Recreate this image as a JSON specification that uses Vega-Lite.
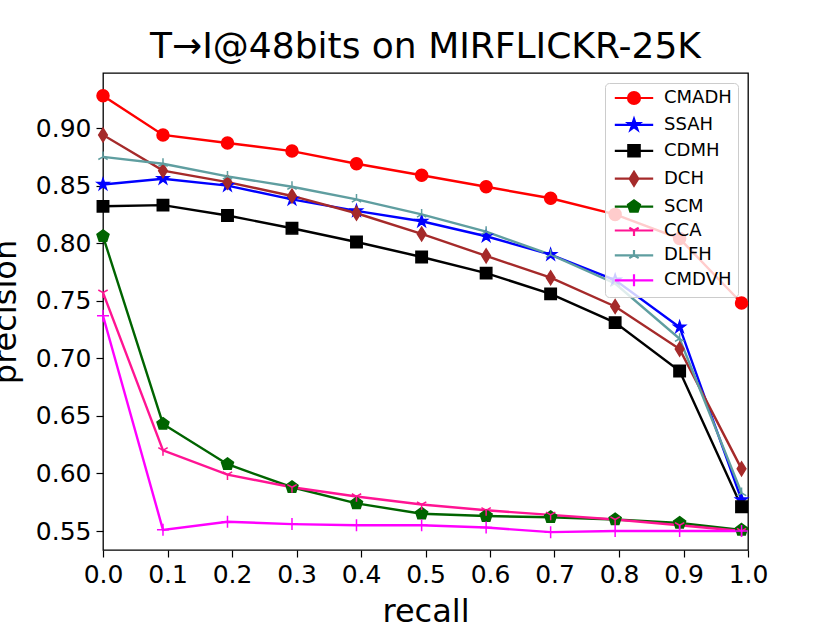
{
  "$schema": "https://vega.github.io/schema/vega-lite/v6.json",
  "autosize": "none",
  "width": 645,
  "height": 477,
  "padding": {"left": 103, "top": 73, "right": 82, "bottom": 73},
  "background": "white",
  "title": {
    "text": "T→I@48bits on MIRFLICKR-25K",
    "font": "DejaVu Sans",
    "fontSize": 36,
    "fontWeight": "normal",
    "color": "black",
    "anchor": "middle",
    "baseline": "alphabetic",
    "offset": -21
  },
  "data": {
    "values": [
      {"method": "CMADH", "recall": 0, "precision": 0.928},
      {"method": "CMADH", "recall": 0.093, "precision": 0.894},
      {"method": "CMADH", "recall": 0.193, "precision": 0.887},
      {"method": "CMADH", "recall": 0.293, "precision": 0.880},
      {"method": "CMADH", "recall": 0.393, "precision": 0.869},
      {"method": "CMADH", "recall": 0.494, "precision": 0.859},
      {"method": "CMADH", "recall": 0.594, "precision": 0.849},
      {"method": "CMADH", "recall": 0.694, "precision": 0.839},
      {"method": "CMADH", "recall": 0.794, "precision": 0.825},
      {"method": "CMADH", "recall": 0.894, "precision": 0.804},
      {"method": "CMADH", "recall": 0.99, "precision": 0.748},
      {"method": "SSAH", "recall": 0, "precision": 0.851},
      {"method": "SSAH", "recall": 0.093, "precision": 0.856},
      {"method": "SSAH", "recall": 0.193, "precision": 0.850},
      {"method": "SSAH", "recall": 0.293, "precision": 0.838},
      {"method": "SSAH", "recall": 0.393, "precision": 0.828},
      {"method": "SSAH", "recall": 0.494, "precision": 0.819},
      {"method": "SSAH", "recall": 0.594, "precision": 0.806},
      {"method": "SSAH", "recall": 0.694, "precision": 0.790},
      {"method": "SSAH", "recall": 0.794, "precision": 0.768},
      {"method": "SSAH", "recall": 0.894, "precision": 0.727},
      {"method": "SSAH", "recall": 0.99, "precision": 0.577},
      {"method": "CDMH", "recall": 0, "precision": 0.832},
      {"method": "CDMH", "recall": 0.093, "precision": 0.833},
      {"method": "CDMH", "recall": 0.193, "precision": 0.824},
      {"method": "CDMH", "recall": 0.293, "precision": 0.813},
      {"method": "CDMH", "recall": 0.393, "precision": 0.801},
      {"method": "CDMH", "recall": 0.494, "precision": 0.788},
      {"method": "CDMH", "recall": 0.594, "precision": 0.774},
      {"method": "CDMH", "recall": 0.694, "precision": 0.756},
      {"method": "CDMH", "recall": 0.794, "precision": 0.731},
      {"method": "CDMH", "recall": 0.894, "precision": 0.689},
      {"method": "CDMH", "recall": 0.99, "precision": 0.571},
      {"method": "DCH", "recall": 0, "precision": 0.894},
      {"method": "DCH", "recall": 0.093, "precision": 0.863},
      {"method": "DCH", "recall": 0.193, "precision": 0.853},
      {"method": "DCH", "recall": 0.293, "precision": 0.841},
      {"method": "DCH", "recall": 0.393, "precision": 0.826},
      {"method": "DCH", "recall": 0.494, "precision": 0.808},
      {"method": "DCH", "recall": 0.594, "precision": 0.789},
      {"method": "DCH", "recall": 0.694, "precision": 0.770},
      {"method": "DCH", "recall": 0.794, "precision": 0.745},
      {"method": "DCH", "recall": 0.894, "precision": 0.708},
      {"method": "DCH", "recall": 0.99, "precision": 0.604},
      {"method": "SCM", "recall": 0, "precision": 0.806},
      {"method": "SCM", "recall": 0.093, "precision": 0.643},
      {"method": "SCM", "recall": 0.193, "precision": 0.608},
      {"method": "SCM", "recall": 0.293, "precision": 0.588},
      {"method": "SCM", "recall": 0.393, "precision": 0.574},
      {"method": "SCM", "recall": 0.494, "precision": 0.565},
      {"method": "SCM", "recall": 0.594, "precision": 0.563},
      {"method": "SCM", "recall": 0.694, "precision": 0.562},
      {"method": "SCM", "recall": 0.794, "precision": 0.560},
      {"method": "SCM", "recall": 0.894, "precision": 0.557},
      {"method": "SCM", "recall": 0.99, "precision": 0.551},
      {"method": "CCA", "recall": 0, "precision": 0.757},
      {"method": "CCA", "recall": 0.093, "precision": 0.620},
      {"method": "CCA", "recall": 0.193, "precision": 0.599},
      {"method": "CCA", "recall": 0.293, "precision": 0.588},
      {"method": "CCA", "recall": 0.393, "precision": 0.580},
      {"method": "CCA", "recall": 0.494, "precision": 0.573},
      {"method": "CCA", "recall": 0.594, "precision": 0.568},
      {"method": "CCA", "recall": 0.694, "precision": 0.564},
      {"method": "CCA", "recall": 0.794, "precision": 0.560},
      {"method": "CCA", "recall": 0.894, "precision": 0.555},
      {"method": "CCA", "recall": 0.99, "precision": 0.550},
      {"method": "DLFH", "recall": 0, "precision": 0.875},
      {"method": "DLFH", "recall": 0.093, "precision": 0.869},
      {"method": "DLFH", "recall": 0.193, "precision": 0.858},
      {"method": "DLFH", "recall": 0.293, "precision": 0.849},
      {"method": "DLFH", "recall": 0.393, "precision": 0.838},
      {"method": "DLFH", "recall": 0.494, "precision": 0.825},
      {"method": "DLFH", "recall": 0.594, "precision": 0.810},
      {"method": "DLFH", "recall": 0.694, "precision": 0.790},
      {"method": "DLFH", "recall": 0.794, "precision": 0.765},
      {"method": "DLFH", "recall": 0.894, "precision": 0.717},
      {"method": "DLFH", "recall": 0.99, "precision": 0.583},
      {"method": "CMDVH", "recall": 0, "precision": 0.737},
      {"method": "CMDVH", "recall": 0.093, "precision": 0.551},
      {"method": "CMDVH", "recall": 0.193, "precision": 0.558},
      {"method": "CMDVH", "recall": 0.293, "precision": 0.556},
      {"method": "CMDVH", "recall": 0.393, "precision": 0.555},
      {"method": "CMDVH", "recall": 0.494, "precision": 0.555},
      {"method": "CMDVH", "recall": 0.594, "precision": 0.553},
      {"method": "CMDVH", "recall": 0.694, "precision": 0.549},
      {"method": "CMDVH", "recall": 0.794, "precision": 0.550},
      {"method": "CMDVH", "recall": 0.894, "precision": 0.550},
      {"method": "CMDVH", "recall": 0.99, "precision": 0.550}
    ]
  },
  "encoding": {
    "x": {
      "field": "recall",
      "type": "quantitative",
      "scale": {"domain": [0, 1], "nice": false, "zero": false},
      "axis": {
        "title": "recall",
        "values": [0, 0.1, 0.2, 0.3, 0.4, 0.5, 0.6, 0.7, 0.8, 0.9, 1.0],
        "format": ".1f",
        "titlePadding": 9
      }
    },
    "y": {
      "field": "precision",
      "type": "quantitative",
      "scale": {"domain": [0.5335, 0.9478], "nice": false, "zero": false},
      "axis": {
        "title": "precision",
        "values": [0.55, 0.6, 0.65, 0.7, 0.75, 0.8, 0.85, 0.9],
        "format": ".2f",
        "titlePadding": 13
      }
    }
  },
  "layer": [
    {
      "mark": {"type": "line", "strokeWidth": 2.4, "clip": true},
      "encoding": {
        "detail": {"field": "method"},
        "color": {
          "field": "method",
          "type": "nominal",
          "scale": {
            "domain": ["CMADH", "SSAH", "CDMH", "DCH", "SCM", "CCA", "DLFH", "CMDVH"],
            "range": ["#ff0000", "#0000ff", "#000000", "#a52a2a", "#006400", "#ff1493", "#5f9ea0", "#ff00ff"]
          },
          "legend": null
        }
      }
    },
    {
      "mark": {"type": "point", "filled": true, "opacity": 1, "size": 144, "strokeWidth": 1.5},
      "encoding": {
        "color": {"field": "method", "type": "nominal", "legend": null},
        "stroke": {
          "field": "method",
          "type": "nominal",
          "scale": {
            "domain": ["CMADH", "SSAH", "CDMH", "DCH", "SCM", "CCA", "DLFH", "CMDVH"],
            "range": ["#ff0000", "#0000ff", "#000000", "#a52a2a", "#006400", "#ff1493", "#5f9ea0", "#ff00ff"]
          },
          "legend": null
        },
        "shape": {
          "field": "method",
          "type": "nominal",
          "scale": {
            "domain": ["CMADH", "SSAH", "CDMH", "DCH", "SCM", "CCA", "DLFH", "CMDVH"],
            "range": [
              "M1,0A1,1,0,1,1,-1,0A1,1,0,1,1,1,0Z",
              "M0,-1L0.23,-0.31L0.95,-0.31L0.36,0.12L0.59,0.81L0,0.38L-0.59,0.81L-0.36,0.12L-0.95,-0.31L-0.23,-0.31Z",
              "M-0.95,-0.95H0.95V0.95H-0.95Z",
              "M0,-1.15L0.72,0L0,1.15L-0.72,0Z",
              "M0,-1.05L1,-0.32L0.62,0.85L-0.62,0.85L-1,-0.32Z",
              "M0,0L0,0.9M0,0L-0.78,-0.45M0,0L0.78,-0.45",
              "M0,0L0,-0.9M0,0L-0.78,0.45M0,0L0.78,0.45",
              "M-1,0L1,0M0,-1L0,1"
            ]
          },
          "legend": null
        }
      }
    },
    {
      "transform": [{"filter": "datum.recall < 0"}],
      "mark": {"type": "point", "filled": true, "size": 144},
      "encoding": {
        "color": {"field": "method", "type": "nominal", "legend": {"title": null}},
        "stroke": {"field": "method", "type": "nominal", "legend": {"title": null}},
        "shape": {
          "field": "method",
          "type": "nominal",
          "scale": {
            "domain": ["CMADH", "SSAH", "CDMH", "DCH", "SCM", "CCA", "DLFH", "CMDVH"],
            "range": [
              "M-3.2,0H3.2M1,0A1,1,0,1,1,-1,0A1,1,0,1,1,1,0Z",
              "M-3.2,0H3.2M0,-1L0.23,-0.31L0.95,-0.31L0.36,0.12L0.59,0.81L0,0.38L-0.59,0.81L-0.36,0.12L-0.95,-0.31L-0.23,-0.31Z",
              "M-3.2,0H3.2M-0.95,-0.95H0.95V0.95H-0.95Z",
              "M-3.2,0H3.2M0,-1.15L0.72,0L0,1.15L-0.72,0Z",
              "M-3.2,0H3.2M0,-1.05L1,-0.32L0.62,0.85L-0.62,0.85L-1,-0.32Z",
              "M-3.2,0H3.2M0,0L0,0.9M0,0L-0.78,-0.45M0,0L0.78,-0.45",
              "M-3.2,0H3.2M0,0L0,-0.9M0,0L-0.78,0.45M0,0L0.78,0.45",
              "M-3.2,0H3.2M0,-1L0,1"
            ]
          },
          "legend": {"title": null}
        }
      }
    }
  ],
  "resolve": {
    "scale": {"shape": "independent"},
    "legend": {"color": "independent", "stroke": "independent", "shape": "independent"}
  },
  "config": {
    "view": {"stroke": "black", "strokeWidth": 1.3},
    "axis": {
      "grid": false,
      "domain": false,
      "ticks": true,
      "tickColor": "black",
      "tickSize": 7,
      "tickWidth": 1.2,
      "labelFont": "DejaVu Sans",
      "labelFontSize": 25,
      "labelColor": "black",
      "labelPadding": 5,
      "labelFlush": false,
      "labelOverlap": false,
      "titleFont": "DejaVu Sans",
      "titleFontSize": 32,
      "titleFontWeight": "normal",
      "titleColor": "black"
    },
    "legend": {
      "orient": "none",
      "legendX": 502,
      "legendY": 10,
      "padding": 6,
      "fillColor": "rgba(255,255,255,0.8)",
      "strokeColor": "#cccccc",
      "cornerRadius": 4,
      "labelFont": "DejaVu Sans",
      "labelFontSize": 18,
      "labelColor": "black",
      "symbolSize": 144,
      "symbolStrokeWidth": 2.2,
      "symbolOpacity": 1,
      "symbolOffset": 14,
      "labelOffset": 21,
      "rowPadding": 4.9
    }
  }
}
